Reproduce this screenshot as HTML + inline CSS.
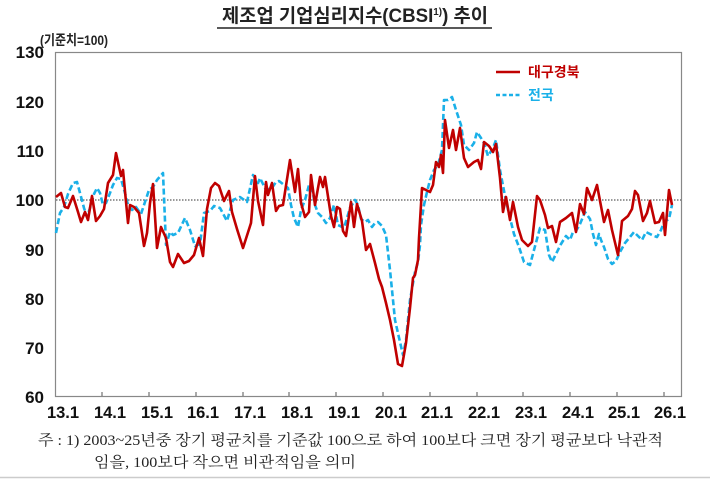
<!DOCTYPE html>
<html><head><meta charset="utf-8"><style>
body{margin:0;background:#fff;}
svg{display:block;}
.t{font-family:"Liberation Sans","Noto Sans CJK KR",sans-serif;font-weight:bold;}
.n{font-family:"Liberation Serif","Noto Serif CJK SC","Noto Sans CJK KR",serif;}
</style></head><body>
<svg width="710" height="479" viewBox="0 0 710 479" xmlns="http://www.w3.org/2000/svg">
<text x="222" y="22" textLength="266" lengthAdjust="spacingAndGlyphs" class="t" font-size="19" fill="#222">제조업 기업심리지수(CBSI<tspan font-size="10" dy="-7">1)</tspan><tspan dy="7">) 추이</tspan></text>
<line x1="217" y1="28" x2="492" y2="28" stroke="#222" stroke-width="1.5"/>
<text x="40" y="45" textLength="68" lengthAdjust="spacingAndGlyphs" class="t" font-size="14" fill="#222">(기준치=100)</text>
<g class="t" font-size="17" fill="#111" text-anchor="end">
<text x="44" y="58">130</text><text x="44" y="108">120</text><text x="44" y="157">110</text>
<text x="44" y="206">100</text><text x="44" y="256">90</text><text x="44" y="305">80</text>
<text x="44" y="354">70</text><text x="44" y="403">60</text>
</g>
<rect x="55.5" y="52.5" width="626" height="344" fill="none" stroke="#888" stroke-width="1.2"/>
<line x1="56" y1="200" x2="681" y2="200" stroke="#333" stroke-width="1" stroke-dasharray="1.5,1.5"/>
<g stroke="#555" stroke-width="1">
<line x1="102" y1="392" x2="102" y2="396"/><line x1="149" y1="392" x2="149" y2="396"/><line x1="196" y1="392" x2="196" y2="396"/><line x1="243" y1="392" x2="243" y2="396"/><line x1="289" y1="392" x2="289" y2="396"/><line x1="336" y1="392" x2="336" y2="396"/><line x1="383" y1="392" x2="383" y2="396"/><line x1="430" y1="392" x2="430" y2="396"/><line x1="477" y1="392" x2="477" y2="396"/><line x1="523" y1="392" x2="523" y2="396"/><line x1="570" y1="392" x2="570" y2="396"/><line x1="617" y1="392" x2="617" y2="396"/><line x1="664" y1="392" x2="664" y2="396"/>
</g>
<g class="t" font-size="16.5" fill="#111" text-anchor="middle">
<text x="63" y="418">13.1</text><text x="110" y="418">14.1</text><text x="157" y="418">15.1</text><text x="203" y="418">16.1</text><text x="250" y="418">17.1</text><text x="297" y="418">18.1</text><text x="344" y="418">19.1</text><text x="391" y="418">20.1</text><text x="437" y="418">21.1</text><text x="484" y="418">22.1</text><text x="531" y="418">23.1</text><text x="578" y="418">24.1</text><text x="624" y="418">25.1</text><text x="670" y="418">26.1</text>
</g>
<polyline fill="none" stroke="#1ab0e8" stroke-width="2.6" stroke-dasharray="6,3" stroke-linejoin="round" points="56,233 60,213 64,207 68,194 73,183 77,182 80,193 84,208 87,217 90,208 94,194 97,188 100,193 103,205 106,203 110,193 113,185 117,178 121,179 125,193 128,205 132,210 136,207 141,214 145,202 149,190 153,187 157,180 163,173 166,245 170,232 173,235 178,233 185,218 190,230 195,246 200,244 204,213 210,211 214,206 220,208 227,221 233,200 240,197 247,202 253,175 258,183 260,178 266,190 272,188 276,182 279,181 288,188 291,205 294,218 298,227 301,210 305,200 309,185 312,188 315,205 318,213 322,217 326,223 330,218 334,205 338,225 344,228 350,208 355,200 358,205 361,219 365,222 368,220 372,227 375,223 378,222 382,226 386,235 390,270 395,320 400,342 403,355 406,340 410,300 415,272 418,262 420,245 421,225 424,205 427,192 430,180 434,170 438,165 442,150 444,100 448,100 452,97 456,110 461,125 464,145 469,150 474,143 477,132 481,138 484,143 488,156 493,148 496,140 500,170 505,196 509,214 514,234 519,247 524,262 530,265 534,250 540,228 545,230 549,255 552,262 556,254 561,244 566,236 570,240 573,232 576,231 580,224 585,212 590,219 593,234 596,245 599,234 601,240 604,247 608,259 612,264 616,261 620,252 625,243 630,237 634,232 638,236 642,240 646,232 650,234 654,236 657,237 661,230 664,222 669,219 672,205"/>
<polyline fill="none" stroke="#c00000" stroke-width="2.6" stroke-linejoin="round" points="56,197 61,193 65,207 68,208 73,196 78,212 81,222 85,212 88,220 92,196 96,221 100,216 104,209 108,183 113,175 116,153 121,176 123,170 128,223 130,205 134,207 139,213 144,246 147,233 150,203 153,184 157,248 161,227 166,238 170,262 173,267 178,254 184,263 189,261 194,255 199,238 203,256 207,209 211,188 215,183 219,186 224,201 229,191 232,212 237,229 243,248 251,223 255,176 258,201 263,225 266,182 268,195 272,183 276,211 279,206 283,205 290,160 295,192 298,169 301,203 305,217 309,212 311,175 315,205 318,188 320,177 323,187 325,177 331,216 334,227 337,207 340,209 343,231 346,236 351,202 354,227 357,204 362,221 366,250 370,244 375,263 379,279 382,287 386,303 390,320 394,340 398,364 402,366 406,343 410,308 413,278 415,275 418,260 419,238 422,188 426,190 430,192 433,185 436,162 439,167 441,155 443,173 445,120 449,148 453,130 456,150 460,128 464,158 468,167 474,162 478,160 481,169 484,142 489,146 493,152 496,144 500,178 503,212 506,197 510,220 513,202 518,227 522,240 528,246 532,242 537,196 540,200 545,215 548,228 552,226 556,242 560,222 566,218 572,213 576,232 580,204 584,214 587,188 592,200 597,185 604,222 608,210 612,230 618,255 620,240 622,221 628,216 632,209 635,191 638,195 643,221 647,213 650,201 655,223 659,222 663,213 665,235 669,190 672,205"/>
<line x1="496" y1="72" x2="520" y2="72" stroke="#c00000" stroke-width="2.6"/>
<text x="528" y="77" class="t" font-size="14" fill="#c00000">대구경북</text>
<line x1="496" y1="95" x2="520" y2="95" stroke="#1ab0e8" stroke-width="2.6" stroke-dasharray="4,2.5"/>
<text x="528" y="100" class="t" font-size="14" fill="#1ab0e8">전국</text>
<text x="38" y="445" textLength="625" lengthAdjust="spacingAndGlyphs" class="n" font-size="15" fill="#222">주 : 1) 2003~25년중 장기 평균치를 기준값 100으로 하여 100보다 크면 장기 평균보다 낙관적</text>
<text x="94" y="467" textLength="262" lengthAdjust="spacingAndGlyphs" class="n" font-size="15" fill="#222">임을, 100보다 작으면 비관적임을 의미</text>
<line x1="0" y1="477.5" x2="710" y2="477.5" stroke="#ccc" stroke-width="1.5"/>
</svg>
</body></html>
